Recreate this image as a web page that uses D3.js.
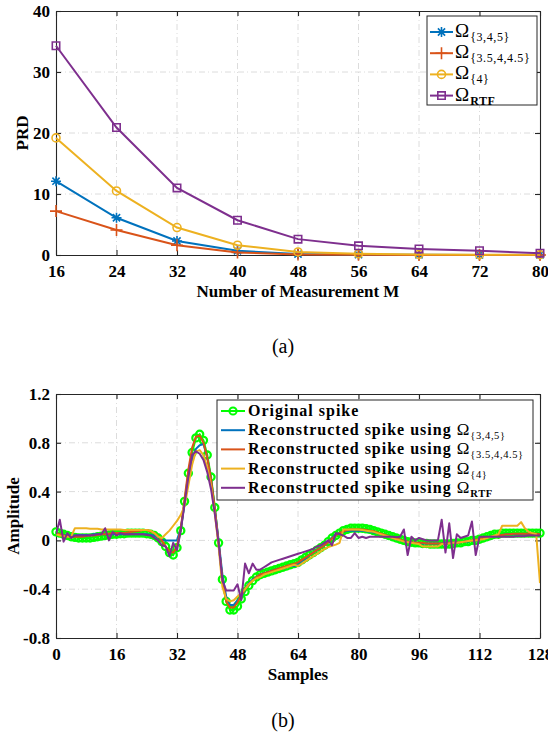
<!DOCTYPE html>
<html>
<head>
<meta charset="utf-8">
<script src="https://cdn.jsdelivr.net/npm/d3@7"></script>
<style>
body { margin: 0; background: #fff; }
svg text { font-family: "Liberation Serif", "Times New Roman", serif; }
</style>
</head>
<body>
<svg id="chart" width="548" height="742"></svg>
<script>
// ---- (a) PRD vs number of measurements
var measurements = [16, 24, 32, 40, 48, 56, 64, 72, 80];
var prd345  = [12.1, 6.1, 2.3, 0.7, 0.15, 0.05, 0.03, 0.02, 0.02];
var prd3545 = [7.2, 4.1, 1.6, 0.4, 0.1, 0.04, 0.02, 0.02, 0.01];
var prd4    = [19.2, 10.5, 4.5, 1.6, 0.5, 0.2, 0.1, 0.06, 0.05];
var prdRtf  = [34.3, 20.9, 11.0, 5.7, 2.6, 1.5, 1.0, 0.7, 0.3];
var prdYTicks = [0, 10, 20, 30, 40];
var omegaSubs = ["{3,4,5}", "{3.5,4,4.5}", "{4}", "RTF"];

// ---- (b) spike waveforms, one value per sample 0..128
var spikeOrig = [
  0.07,0.06,0.05,0.04,0.03,0.025,0.02,0.02,0.02,0.02,0.025,0.03,0.035,0.04,0.045,0.05,
  0.05,0.055,0.055,0.06,0.06,0.06,0.06,0.06,0.055,0.05,0.04,0.02,-0.01,-0.05,-0.10,-0.12,
  -0.06,0.08,0.32,0.55,0.72,0.84,0.87,0.82,0.70,0.52,0.27,-0.02,-0.32,-0.50,-0.57,-0.57,
  -0.54,-0.48,-0.42,-0.37,-0.33,-0.30,-0.28,-0.27,-0.26,-0.25,-0.24,-0.23,-0.22,-0.21,-0.20,-0.19,
  -0.18,-0.16,-0.14,-0.12,-0.10,-0.08,-0.06,-0.04,-0.01,0.02,0.04,0.06,0.08,0.09,0.10,0.10,
  0.10,0.10,0.095,0.09,0.08,0.07,0.06,0.05,0.04,0.03,0.02,0.01,0.0,-0.01,-0.015,-0.02,
  -0.02,-0.025,-0.025,-0.03,-0.03,-0.03,-0.03,-0.03,-0.03,-0.025,-0.02,-0.02,-0.01,-0.01,0.0,0.0,
  0.01,0.02,0.03,0.04,0.05,0.05,0.06,0.06,0.06,0.06,0.06,0.06,0.06,0.06,0.06,0.06,
  0.06];
var spike345 = [
  0.05,0.045,0.04,0.04,0.04,0.04,0.045,0.045,0.045,0.045,0.05,0.05,0.05,0.05,0.05,0.05,
  0.05,0.05,0.05,0.05,0.05,0.05,0.05,0.05,0.05,0.045,0.04,0.025,0.005,0.0,0.0,0.0,
  0.0,0.1,0.3,0.5,0.66,0.75,0.78,0.79,0.68,0.5,0.26,0.0,-0.28,-0.46,-0.53,-0.53,
  -0.49,-0.46,-0.40,-0.35,-0.32,-0.30,-0.28,-0.27,-0.26,-0.25,-0.24,-0.235,-0.23,-0.22,-0.21,-0.21,
  -0.20,-0.17,-0.15,-0.12,-0.10,-0.08,-0.06,-0.04,-0.01,0.02,0.05,0.06,0.07,0.08,0.08,0.08,
  0.08,0.08,0.075,0.07,0.065,0.06,0.05,0.04,0.03,0.02,0.01,0.0,-0.01,-0.015,-0.02,-0.02,
  -0.02,-0.025,-0.025,-0.025,-0.025,-0.025,-0.025,-0.02,-0.02,-0.02,-0.02,-0.015,-0.01,-0.01,0.0,0.0,
  0.01,0.015,0.02,0.03,0.035,0.04,0.045,0.05,0.05,0.05,0.05,0.05,0.05,0.05,0.05,0.05,
  0.05];
var spike3545 = [
  0.06,0.05,0.04,0.035,0.03,0.03,0.03,0.03,0.035,0.04,0.04,0.045,0.05,0.05,0.055,0.06,
  0.06,0.06,0.06,0.065,0.07,0.075,0.08,0.085,0.085,0.075,0.06,0.035,0.0,-0.05,-0.09,-0.10,
  -0.05,0.10,0.34,0.58,0.76,0.85,0.86,0.80,0.68,0.50,0.26,-0.02,-0.32,-0.50,-0.55,-0.55,
  -0.51,-0.45,-0.40,-0.36,-0.33,-0.30,-0.28,-0.27,-0.26,-0.25,-0.24,-0.23,-0.22,-0.21,-0.20,-0.19,
  -0.18,-0.16,-0.14,-0.12,-0.10,-0.08,-0.06,-0.04,-0.015,0.015,0.04,0.06,0.075,0.085,0.09,0.09,
  0.09,0.09,0.085,0.08,0.075,0.065,0.055,0.045,0.035,0.025,0.015,0.005,-0.005,-0.01,-0.015,-0.02,
  -0.02,-0.02,-0.025,-0.025,-0.025,-0.025,-0.025,-0.025,-0.02,-0.02,-0.02,-0.015,-0.01,-0.005,0.0,0.005,
  0.01,0.02,0.025,0.03,0.035,0.04,0.045,0.05,0.05,0.055,0.055,0.055,0.055,0.055,0.055,0.055,
  0.05];
var spike4 = [
  0.05,0.04,0.035,0.03,0.03,0.10,0.10,0.10,0.10,0.095,0.095,0.095,0.09,0.09,0.09,0.09,
  0.09,0.09,0.085,0.085,0.085,0.085,0.085,0.085,0.085,0.08,0.06,0.03,0.02,0.05,0.08,0.12,
  0.16,0.21,0.28,0.45,0.62,0.73,0.74,0.70,0.60,0.45,0.22,-0.05,-0.38,-0.48,-0.50,-0.49,
  -0.46,-0.43,-0.40,-0.36,-0.33,-0.31,-0.30,-0.28,-0.27,-0.26,-0.25,-0.24,-0.23,-0.22,-0.21,-0.20,
  -0.21,-0.19,-0.17,-0.15,-0.13,-0.11,-0.09,-0.07,-0.055,-0.045,-0.035,-0.02,0.09,0.09,0.09,0.09,
  0.09,0.085,0.08,0.075,0.07,0.06,0.05,0.04,0.03,0.02,0.01,0.0,-0.01,-0.015,-0.02,-0.025,
  -0.03,-0.05,-0.05,-0.05,-0.05,-0.05,-0.03,-0.03,-0.025,-0.02,-0.02,-0.015,-0.01,-0.005,0.0,0.0,
  0.005,0.01,0.02,0.03,0.04,0.05,0.12,0.12,0.12,0.12,0.12,0.15,0.10,0.07,0.06,0.05,
  -0.35];
var spikeRtf = [
  0.05,0.17,-0.01,0.06,0.02,0.04,0.04,0.04,0.04,0.04,0.045,0.05,0.05,0.10,0.0,0.07,
  0.04,0.06,0.05,0.05,0.05,0.05,0.05,0.05,0.045,0.04,0.02,0.0,-0.04,-0.05,-0.13,-0.02,
  -0.08,0.08,0.30,0.52,0.70,0.73,0.71,0.66,0.56,0.42,0.22,-0.02,-0.33,-0.41,-0.41,-0.41,
  -0.36,-0.49,-0.19,-0.27,-0.19,-0.24,-0.24,-0.22,-0.20,-0.18,-0.17,-0.16,-0.15,-0.14,-0.13,-0.12,
  -0.11,-0.10,-0.09,-0.08,-0.07,-0.05,-0.04,-0.02,0.0,-0.04,0.06,0.05,0.04,0.02,0.02,0.06,
  0.02,0.03,0.02,0.03,0.03,0.03,0.03,0.03,0.03,0.03,0.025,0.03,0.09,-0.12,0.03,0.0,
  0.02,0.01,0.0,0.0,0.0,0.0,0.17,-0.10,0.14,-0.145,0.05,0.02,0.03,0.04,0.155,-0.12,
  0.03,0.03,0.03,0.03,0.03,0.03,0.03,0.03,0.03,0.03,0.035,0.035,0.035,0.04,0.04,0.04,
  0.04];
var sampleTicks = [0, 16, 32, 48, 64, 80, 96, 112, 128];
var ampTicks = [-0.8, -0.4, 0, 0.4, 0.8, 1.2];
var spikeLabels = ["Original spike", "{3,4,5}", "{3.5,4,4.5}", "{4}", "RTF"];

var colors = ["#0072BD", "#D95319", "#EDB120", "#7E2F8E"];
var green = "#00FF00";
var axisColor = "#262626";

var svg = d3.select("#chart");

// draws box, inward ticks, grid and labels for one panel
function drawFrame(g, x, y, xTicks, yTicks, xLabel, yLabel, yLabelX) {
    var w = x.range()[1] - x.range()[0];
    var h = y.range()[0] - y.range()[1];
    var x0 = x.range()[0], y0 = y.range()[1];

    var grid = g.append("g").attr("stroke", "#dcdcdc").attr("stroke-width", 1)
        .attr("stroke-dasharray", "6,3,1,3");
    grid.selectAll("line.v").data(xTicks.slice(1, -1)).enter().append("line")
        .attr("x1", function (d) { return x(d); }).attr("x2", function (d) { return x(d); })
        .attr("y1", y0).attr("y2", y0 + h);
    grid.selectAll("line.h").data(yTicks.slice(1, -1)).enter().append("line")
        .attr("y1", function (d) { return y(d); }).attr("y2", function (d) { return y(d); })
        .attr("x1", x0).attr("x2", x0 + w);

    var fmt = function (d) { return String(d); };
    var ax = [
        g.append("g").attr("transform", "translate(0," + (y0 + h) + ")")
            .call(d3.axisBottom(x).tickValues(xTicks).tickSize(-5).tickSizeOuter(0).tickPadding(10).tickFormat(fmt)),
        g.append("g").attr("transform", "translate(" + x0 + ",0)")
            .call(d3.axisLeft(y).tickValues(yTicks).tickSize(-5).tickSizeOuter(0).tickPadding(6).tickFormat(fmt)),
        g.append("g").attr("transform", "translate(0," + y0 + ")")
            .call(d3.axisTop(x).tickValues(xTicks).tickSize(-5).tickSizeOuter(0).tickFormat("")),
        g.append("g").attr("transform", "translate(" + (x0 + w) + ",0)")
            .call(d3.axisRight(y).tickValues(yTicks).tickSize(-5).tickSizeOuter(0).tickFormat(""))
    ];
    ax.forEach(function (a) {
        a.attr("font-family", null);
        a.selectAll("path, line").attr("stroke", axisColor).attr("stroke-width", 1.1);
        a.selectAll("text").attr("fill", "#000").attr("font-size", 17).attr("font-weight", "bold");
    });

    g.append("text").attr("x", x0 + w / 2).attr("y", y0 + h + 42)
        .attr("text-anchor", "middle").attr("font-size", 17).attr("font-weight", "bold").text(xLabel);
    g.append("text").attr("transform", "translate(" + yLabelX + "," + (y0 + h / 2) + ") rotate(-90)")
        .attr("text-anchor", "middle").attr("font-size", 17).attr("font-weight", "bold").text(yLabel);
}

// top-panel markers
function marker(sel, kind, color) {
    sel.attr("fill", "none").attr("stroke", color).attr("stroke-width", 1.6);
    if (kind === 0) sel.attr("d", "M-5,0H5M0,-5V5M-3.6,-3.6L3.6,3.6M-3.6,3.6L3.6,-3.6");
    else if (kind === 1) sel.attr("d", "M-6,0H6M0,-6V6");
    else if (kind === 2) sel.attr("d", d3.symbol().type(d3.symbolCircle).size(50)());
    else sel.attr("d", "M-3.7,-3.7H3.7V3.7H-3.7Z");
}

// Ω with a subscript, appended into a text element
function omega(t, sub, big, small) {
    t.append("tspan").attr("font-size", big).text("Ω");
    t.append("tspan").attr("font-size", small).attr("dy", 4).attr("dx", 1)
        .attr("font-weight", sub === "RTF" ? "bold" : "normal")
        .attr("letter-spacing", 0.6).text(sub);
}

// ---------- (a)
var xa = d3.scaleLinear().domain([16, 80]).range([56, 540]);
var ya = d3.scaleLinear().domain([0, 40]).range([255, 11]);
var ga = svg.append("g");
drawFrame(ga, xa, ya, measurements, prdYTicks, "Number of Measurement M", "PRD", 28);

var prdSeries = [prd345, prd3545, prd4, prdRtf];
var lineA = d3.line().x(function (d, i) { return xa(measurements[i]); }).y(function (d) { return ya(d); });
prdSeries.forEach(function (s, k) {
    ga.append("path").attr("d", lineA(s)).attr("fill", "none")
        .attr("stroke", colors[k]).attr("stroke-width", 2);
    ga.selectAll("path.m" + k).data(s).enter().append("path").attr("class", "m" + k)
        .attr("transform", function (d, i) { return "translate(" + xa(measurements[i]) + "," + ya(d) + ")"; })
        .call(marker, k, colors[k]);
});

var legA = ga.append("g");
legA.append("rect").attr("x", 427).attr("y", 16).attr("width", 110).attr("height", 89)
    .attr("fill", "#fff").attr("stroke", axisColor).attr("stroke-width", 1);
omegaSubs.forEach(function (sub, k) {
    var ry = 32 + k * 21.2;
    legA.append("line").attr("x1", 430).attr("x2", 453).attr("y1", ry).attr("y2", ry)
        .attr("stroke", colors[k]).attr("stroke-width", 2);
    legA.append("path").attr("transform", "translate(441.5," + ry + ")").call(marker, k, colors[k]);
    omega(legA.append("text").attr("x", 455).attr("y", ry + 5), sub, 19, 12);
});

ga.append("text").attr("x", 283).attr("y", 353).attr("text-anchor", "middle")
    .attr("font-size", 20).text("(a)");

// ---------- (b)
var xb = d3.scaleLinear().domain([0, 128]).range([56, 540]);
var yb = d3.scaleLinear().domain([-0.8, 1.2]).range([638, 394]);
var gb = svg.append("g");
drawFrame(gb, xb, yb, sampleTicks, ampTicks, "Samples", "Amplitude", 19);

var lineB = d3.line().x(function (d, i) { return xb(i); }).y(function (d) { return yb(d); });
gb.append("clipPath").attr("id", "clipb").append("rect")
    .attr("x", 56).attr("y", 394).attr("width", 484).attr("height", 244);
gb.append("path").attr("d", lineB(spikeOrig)).attr("fill", "none")
    .attr("stroke", green).attr("stroke-width", 2);
gb.selectAll("circle.orig").data(spikeOrig).enter().append("circle").attr("class", "orig")
    .attr("cx", function (d, i) { return xb(i); }).attr("cy", function (d) { return yb(d); })
    .attr("r", 3.6).attr("fill", "none").attr("stroke", green).attr("stroke-width", 2.2);

[spike345, spike3545, spike4, spikeRtf].forEach(function (s, k) {
    gb.append("path").attr("d", lineB(s)).attr("fill", "none").attr("clip-path", "url(#clipb)")
        .attr("stroke", colors[k]).attr("stroke-width", 2).attr("stroke-linejoin", "round");
});

var legB = gb.append("g");
legB.append("rect").attr("x", 217).attr("y", 400).attr("width", 316).attr("height", 100)
    .attr("fill", "#fff").attr("stroke", axisColor).attr("stroke-width", 1);
spikeLabels.forEach(function (lab, k) {
    var ry = 411 + k * 19.2;
    var c = k === 0 ? green : colors[k - 1];
    legB.append("line").attr("x1", 221).attr("x2", 245).attr("y1", ry).attr("y2", ry)
        .attr("stroke", c).attr("stroke-width", 2);
    var t = legB.append("text").attr("x", 248).attr("y", ry + 5);
    if (k === 0) {
        legB.append("circle").attr("cx", 233).attr("cy", ry).attr("r", 3.6)
            .attr("fill", "none").attr("stroke", green).attr("stroke-width", 2);
        t.attr("font-size", 16).attr("font-weight", "bold").attr("letter-spacing", 1).text(lab);
    } else {
        t.append("tspan").attr("font-size", 16).attr("font-weight", "bold")
            .attr("letter-spacing", 1).text("Reconstructed spike using ");
        omega(t, lab, 17, 10.5);
    }
});

gb.append("text").attr("x", 283).attr("y", 727).attr("text-anchor", "middle")
    .attr("font-size", 20).text("(b)");
</script>
</body>
</html>
